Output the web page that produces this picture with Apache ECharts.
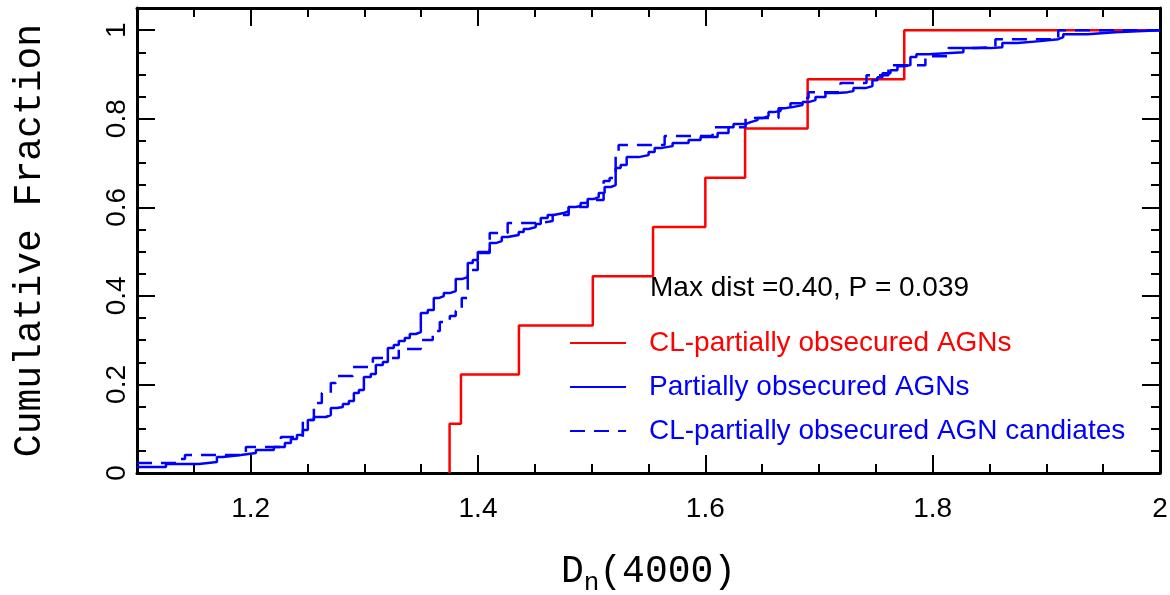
<!DOCTYPE html>
<html>
<head>
<meta charset="utf-8">
<script src="https://cdn.jsdelivr.net/npm/echarts@6/dist/echarts.min.js"></script>
<style>
html,body{margin:0;padding:0;background:#fff;}
#chart{width:1170px;height:595px;}
</style>
</head>
<body>
<div id="chart"></div>
<script>
// ---- data ----
const xTickLabels = [1.2, 1.4, 1.6, 1.8, 2];
const yTickLabels = [0, 0.2, 0.4, 0.6, 0.8, 1];

// CL-partially obsecured AGNs (red, 9 objects)
const redX = [1.375, 1.375, 1.385, 1.436, 1.501, 1.554, 1.600, 1.635, 1.690, 1.775, 2.0];
const redY = [0, 0.1111, 0.2222, 0.3333, 0.4444, 0.5556, 0.6667, 0.7778, 0.8889, 1.0, 1.0];

// Partially obsecured AGNs (blue solid)
const solidX = [1.100,1.1255,1.1545,1.1703,1.1756,1.1914,1.2046,1.2204,1.2301,1.2354,1.2407,1.2459,1.2503,1.2556,1.2662,1.2705,1.2758,1.2811,1.2864,1.2908,1.2952,1.2996,1.3057,1.3101,1.3163,1.3207,1.3259,1.3303,1.3356,1.3400,1.3453,1.3497,1.3558,1.3611,1.3655,1.3699,1.3752,1.3804,1.3857,1.3910,1.3954,1.3998,1.4103,1.4156,1.4209,1.4261,1.4358,1.4402,1.4446,1.4508,1.4552,1.4613,1.4666,1.4754,1.4798,1.4859,1.4903,1.4965,1.5018,1.5062,1.5114,1.5167,1.5211,1.5255,1.5308,1.5413,1.5501,1.5554,1.5607,1.5712,1.5853,1.5958,1.6108,1.6204,1.6248,1.6354,1.6398,1.6459,1.6503,1.6556,1.6600,1.6662,1.6705,1.6767,1.6855,1.6908,1.6969,1.7057,1.7163,1.7251,1.7303,1.7409,1.7470,1.7514,1.7558,1.7629,1.7690,1.7760,1.7804,1.7857,1.7962,1.8270,1.8508,1.8613,1.8745,1.8947,1.9105,1.9149,1.9360,1.9607,2.0];
const solidY = [0.0135,0.0203,0.0248,0.0361,0.0406,0.0451,0.0519,0.0587,0.0677,0.0767,0.0858,0.0971,0.1196,0.1264,0.1309,0.1467,0.1490,0.1558,0.1625,0.1806,0.1874,0.2167,0.2235,0.2438,0.2506,0.2822,0.2889,0.2980,0.3047,0.3138,0.3183,0.3612,0.3679,0.3950,0.3995,0.4063,0.4108,0.4379,0.4424,0.4740,0.4808,0.4989,0.5192,0.5237,0.5327,0.5372,0.5440,0.5508,0.5553,0.5621,0.5756,0.5824,0.5869,0.5914,0.6005,0.6027,0.6095,0.6185,0.6230,0.6321,0.6456,0.6501,0.6885,0.6953,0.7133,0.7178,0.7246,0.7336,0.7381,0.7449,0.7517,0.7585,0.7675,0.7810,0.7878,0.7923,0.7968,0.8014,0.8059,0.8149,0.8172,0.8239,0.8262,0.8307,0.8375,0.8420,0.8488,0.8578,0.8600,0.8623,0.8691,0.8736,0.8871,0.8939,0.9029,0.9097,0.9187,0.9210,0.9391,0.9458,0.9503,0.9594,0.9616,0.9707,0.9752,0.9797,0.9842,0.9910,0.9955,1.0,1.0];

// CL-partially obsecured AGN candiates (blue dashed)
const dashedX = [1.100,1.1360,1.1422,1.1958,1.2266,1.2459,1.2556,1.2626,1.2705,1.2749,1.2899,1.3075,1.3303,1.3497,1.3602,1.3664,1.3752,1.3804,1.3857,1.3910,1.3998,1.4103,1.4261,1.4552,1.4657,1.4798,1.4965,1.5105,1.5158,1.5211,1.5237,1.5642,1.6064,1.6354,1.6644,1.6749,1.6855,1.6908,1.7189,1.7418,1.7611,1.7936,1.8138,1.8376,1.8552,1.9105,2.0];
const dashedY = [0.0226,0.0316,0.0406,0.0587,0.0813,0.1196,0.1580,0.1806,0.2032,0.2190,0.2393,0.2596,0.2799,0.3002,0.3205,0.3409,0.3544,0.3657,0.3950,0.4582,0.4966,0.5418,0.5643,0.5688,0.5824,0.6005,0.6163,0.6591,0.6659,0.7223,0.7404,0.7607,0.7810,0.8014,0.8239,0.8352,0.8465,0.8600,0.8804,0.8984,0.9210,0.9413,0.9594,0.9616,0.9797,1.0,1.0];

const seriesNames = ['CL-partially obsecured AGNs', 'Partially obsecured AGNs', 'CL-partially obsecured AGN candiates'];
const statText = 'Max dist =0.40, P = 0.039';

const zip = (xs, ys) => xs.map((x, i) => [x, ys[i]]);

const XMIN = 1.1, XMAX = 2.0, YMIN = 0, YMAX = 1.05;
const labelFont = 'Liberation Sans';
const fmt = v => String(+(+v).toFixed(2));

function xAx(pos, major, labels) {
  return {
    type: 'value', position: pos, min: XMIN, max: XMAX,
    interval: 0.05,
    axisLine: {show: !major, onZero: false, lineStyle: {color: '#000', width: 3}},
    axisTick: major ? {show: true, inside: true, length: 18, customValues: xTickLabels, lineStyle: {color: '#000', width: 2}}
                    : {show: true, inside: true, length: 9, lineStyle: {color: '#000', width: 2}},
    axisLabel: labels ? {show: true, customValues: xTickLabels, formatter: fmt, color: '#000', fontSize: 28, fontFamily: labelFont, margin: 22}
                      : {show: false},
    splitLine: {show: false}
  };
}
function yAx(pos, major, labels) {
  return {
    type: 'value', position: pos, min: YMIN, max: YMAX,
    interval: 0.05,
    axisLine: {show: !major, onZero: false, lineStyle: {color: '#000', width: 3}},
    axisTick: major ? {show: true, inside: true, length: 18, customValues: yTickLabels, lineStyle: {color: '#000', width: 2}}
                    : {show: true, inside: true, length: 9, lineStyle: {color: '#000', width: 2}},
    axisLabel: labels ? {show: true, customValues: yTickLabels, formatter: fmt, rotate: 90, color: '#000', fontSize: 28, fontFamily: labelFont, margin: 6}
                      : {show: false},
    splitLine: {show: false}
  };
}

const xAxes = [xAx('bottom', false, false), xAx('bottom', true, true), xAx('top', false, false), xAx('top', true, false)];
const yAxes = [yAx('left', false, false), yAx('left', true, true), yAx('right', false, false), yAx('right', true, false)];

xAxes[1].name = '{m|D}{s|n}{m|(4000)}';
xAxes[1].nameLocation = 'middle';
xAxes[1].nameGap = 75;
xAxes[1].nameTextStyle = {
  rich: {
    m: {fontFamily: 'Liberation Mono', fontSize: 38, color: '#000'},
    s: {fontFamily: 'Liberation Mono', fontSize: 26, color: '#000', padding: [22, 0, 0, 0]}
  }
};
yAxes[1].name = 'Cumulative Fraction';
yAxes[1].nameLocation = 'middle';
yAxes[1].nameRotate = 90;
yAxes[1].nameGap = 88;
yAxes[1].nameTextStyle = {fontFamily: 'Liberation Mono', fontSize: 38, color: '#000'};

const chart = echarts.init(document.getElementById('chart'), null, {renderer: 'canvas'});
chart.setOption({
  animation: false,
  backgroundColor: '#fff',
  grid: {left: 137, right: 10, top: 8, bottom: 122, containLabel: false, outerBoundsMode: 'none'},
  xAxis: xAxes,
  yAxis: yAxes,
  legend: {
    orient: 'vertical',
    left: 564, top: 323,
    itemWidth: 56, itemHeight: 14, itemGap: 14,
    selectedMode: false,
    itemStyle: {color: 'rgba(0,0,0,0)', borderWidth: 0, opacity: 0},
    textStyle: {fontSize: 28, fontFamily: labelFont, lineHeight: 30, padding: [0, 0, 0, 18]},
    data: [
      {name: seriesNames[0], textStyle: {color: '#ff0000'}},
      {name: seriesNames[1], textStyle: {color: '#0000ff'}},
      {name: seriesNames[2], textStyle: {color: '#0000ff'}}
    ]
  },
  graphic: [{
    type: 'text', left: 650, top: 274,
    style: {text: statText, fill: '#000', font: '28px "Liberation Sans"'}
  }],
  series: [
    {name: seriesNames[0], type: 'line', step: 'end', data: zip(redX, redY), showSymbol: false, symbol: 'none',
     color: '#ff0000', lineStyle: {color: '#ff0000', width: 2.5}},
    {name: seriesNames[1], type: 'line', step: 'end', data: zip(solidX, solidY), showSymbol: false, symbol: 'none',
     color: '#0000ff', lineStyle: {color: '#0000ff', width: 2.5}},
    {name: seriesNames[2], type: 'line', step: 'end', data: zip(dashedX, dashedY), showSymbol: false, symbol: 'none',
     color: '#0000ff', lineStyle: {color: '#0000ff', width: 2.5, type: [15, 9]}}
  ]
});
</script>
</body>
</html>
